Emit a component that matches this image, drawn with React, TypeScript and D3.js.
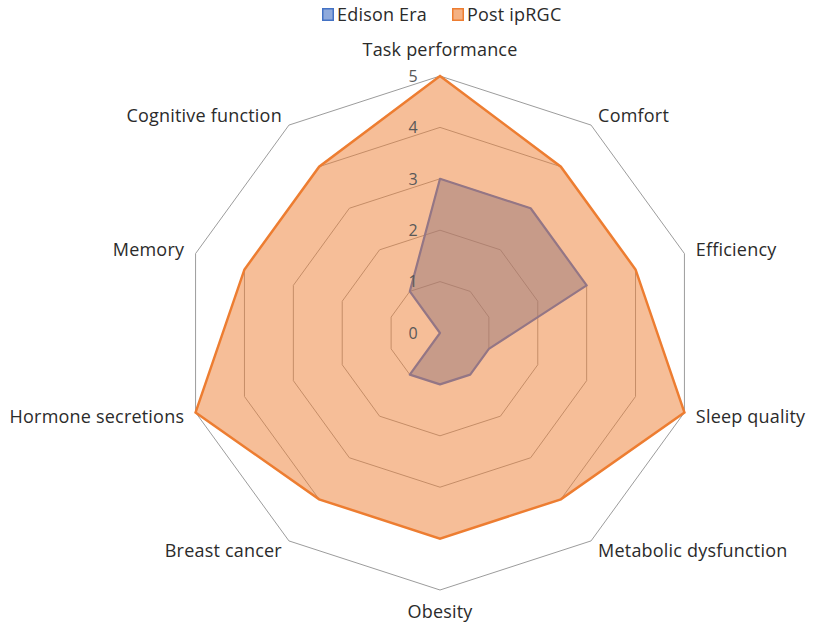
import React from "react";
import * as d3 from "d3";

const categories = [
  "Task performance",
  "Comfort",
  "Efficiency",
  "Sleep quality",
  "Metabolic dysfunction",
  "Obesity",
  "Breast cancer",
  "Hormone secretions",
  "Memory",
  "Cognitive function",
];
const edisonEra = [3, 3, 3, 1, 1, 1, 1, 0, 0, 1];
const postIpRGC = [5, 4, 4, 5, 4, 4, 4, 5, 4, 4];
const tickValues = [0, 1, 2, 3, 4, 5];
const seriesNames = ["Edison Era", "Post ipRGC"];

const W = 814;
const H = 625;
const CX = 440;
const CY = 333;
const R = 257;
const FONT = "'Open Sans', Lato, sans-serif";

export default function App() {
  const r = d3.scaleLinear().domain([0, 5]).range([0, R]);
  const n = categories.length;
  const angle = (i: number) => (i * 2 * Math.PI) / n;

  const radial = d3
    .lineRadial<number>()
    .angle((_, i) => angle(i))
    .radius((d) => r(d))
    .curve(d3.curveLinearClosed);

  const rings = tickValues.filter((v) => v > 0);

  return (
    <svg
      width={W}
      height={H}
      style={{ position: "absolute", left: 0, top: 0, background: "#fff" }}
    >
      <g transform={`translate(${CX},${CY})`}>
        {rings.map((v) => (
          <path
            key={v}
            d={radial(categories.map(() => v)) || ""}
            fill="none"
            stroke="#9c9c9c"
            strokeWidth={1}
          />
        ))}
        <path
          d={radial(edisonEra) || ""}
          fill="#4472C4"
          fillOpacity={0.5}
          stroke="#3A6FD8"
          strokeWidth={2.2}
          strokeLinejoin="round"
        />
        <path d={radial(postIpRGC) || ""} fill="#ED7D31" fillOpacity={0.5} stroke="none" />
        <path
          d={radial(postIpRGC) || ""}
          fill="none"
          stroke="#ED7D31"
          strokeWidth={2.5}
          strokeLinejoin="miter"
        />
        {tickValues.map((v) => (
          <text
            key={v}
            x={-27}
            y={-r(v)}
            dy="0.36em"
            textAnchor="middle"
            fontFamily={FONT}
            fontSize={16}
            fill="#595959"
          >
            {v}
          </text>
        ))}
        {categories.map((c, i) => {
          const a = angle(i);
          const s = Math.sin(a);
          const co = Math.cos(a);
          const vertical = Math.abs(s) < 0.1;
          const rr = vertical ? (co > 0 ? R + 26 : R + 22) : R + 12;
          const x = rr * s;
          const y = -rr * co;
          const anchor = vertical ? "middle" : s > 0 ? "start" : "end";
          return (
            <text
              key={c}
              x={x}
              y={y}
              dy="0.36em"
              textAnchor={anchor}
              fontFamily={FONT}
              fontSize={18}
              letterSpacing={0.2}
              fill="#2b2b2b"
            >
              {c}
            </text>
          );
        })}
      </g>
      <g>
        {seriesNames.map((name, i) => {
          const x0 = i === 0 ? 322 : 452;
          const col = i === 0 ? "#4472C4" : "#ED7D31";
          return (
            <g key={name}>
              <rect
                x={x0 + 0.75}
                y={8.75}
                width={10.5}
                height={11.5}
                fill={col}
                fillOpacity={0.6}
                stroke={col}
                strokeWidth={1.5}
              />
              <text
                x={x0 + 15}
                y={15}
                dy="0.36em"
                fontFamily={FONT}
                fontSize={18}
                letterSpacing={0.2}
                fill="#2b2b2b"
              >
                {name}
              </text>
            </g>
          );
        })}
      </g>
    </svg>
  );
}
